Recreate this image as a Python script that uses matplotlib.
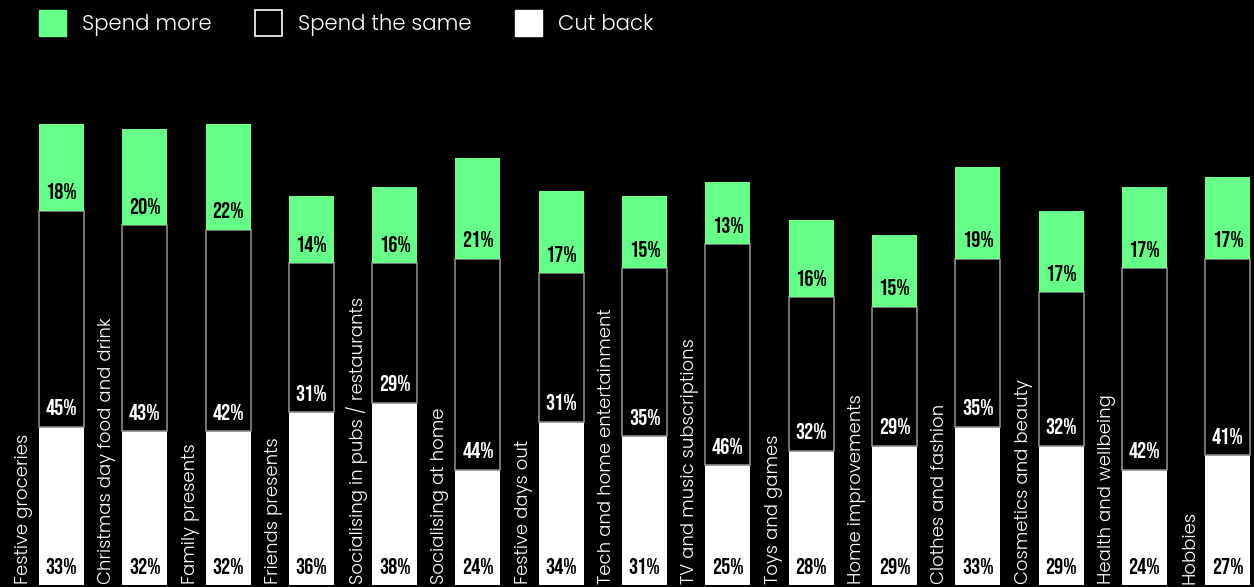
import numpy as np
import matplotlib.pyplot as plt
from matplotlib.patches import Patch

# Festive spending intentions by category, % of respondents
categories = [
    'Festive groceries', 'Christmas day food and drink', 'Family presents',
    'Friends presents', 'Socialising in pubs / restaurants', 'Socialising at home',
    'Festive days out', 'Tech and home entertainment', 'TV and music subscriptions',
    'Toys and games', 'Home improvements', 'Clothes and fashion',
    'Cosmetics and beauty', 'Health and wellbeing', 'Hobbies',
]
cut_back = [33, 32, 32, 36, 38, 24, 34, 31, 25, 28, 29, 33, 29, 24, 27]
spend_same = [45, 43, 42, 31, 29, 44, 31, 35, 46, 32, 29, 35, 32, 42, 41]
spend_more = [18, 20, 22, 14, 16, 21, 17, 15, 13, 16, 15, 19, 17, 17, 17]

GREEN = '#66ff88'
BG = 'black'
LABEL_FONT = ['Poppins', 'DejaVu Sans']
NUM_FONT = ['Bebas Neue', 'DejaVu Sans']

fig = plt.figure(figsize=(12.54, 5.87), dpi=100, facecolor=BG)
ax = fig.add_axes([0, 0, 1, 1], facecolor=BG)

x = np.arange(len(categories))
w = 0.54
cut = np.array(cut_back)
same = np.array(spend_same)
more = np.array(spend_more)

ax.bar(x, cut, w, color='white', linewidth=0)
ax.bar(x, same, w, bottom=cut, color='black', edgecolor='#8a8a8a', linewidth=1.2)
ax.bar(x, more, w, bottom=cut + same, color=GREEN, linewidth=0)

num_kw = dict(family=NUM_FONT, fontsize=16.5, ha='center', va='baseline')
off = 2.4
for i in x:
    ax.text(i, off, f'{cut[i]}%', color='black', **num_kw)
    ax.text(i, cut[i] + off, f'{same[i]}%', color='white', **num_kw)
    ax.text(i, cut[i] + same[i] + off, f'{more[i]}%', color='black', **num_kw)
    # category name runs up the left side of its bar
    ax.text(i - 0.45, 0.3, categories[i], rotation=90, color='white',
            family=LABEL_FONT, weight=300, fontsize=13,
            ha='center', va='bottom')

ax.set_xlim(-0.738, 14.316)
ax.set_ylim(-0.4, 587 / 4.8 - 0.4)
ax.axis('off')

handles = [
    Patch(facecolor=GREEN, edgecolor=GREEN),
    Patch(facecolor='black', edgecolor='white', linewidth=1.2),
    Patch(facecolor='white', edgecolor='white'),
]
leg = fig.legend(handles, ['Spend more', 'Spend the same', 'Cut back'],
                 loc='upper left', bbox_to_anchor=(39 / 1254, 1 - 10 / 587),
                 ncol=3, frameon=False, borderpad=0, borderaxespad=0,
                 handlelength=1.27, handleheight=1.5, handletextpad=0.75,
                 columnspacing=2.05,
                 prop=dict(family=LABEL_FONT, weight=300, size=15.3))
for t in leg.get_texts():
    t.set_color('white')

fig.savefig('out.png', dpi=100, facecolor=BG)
